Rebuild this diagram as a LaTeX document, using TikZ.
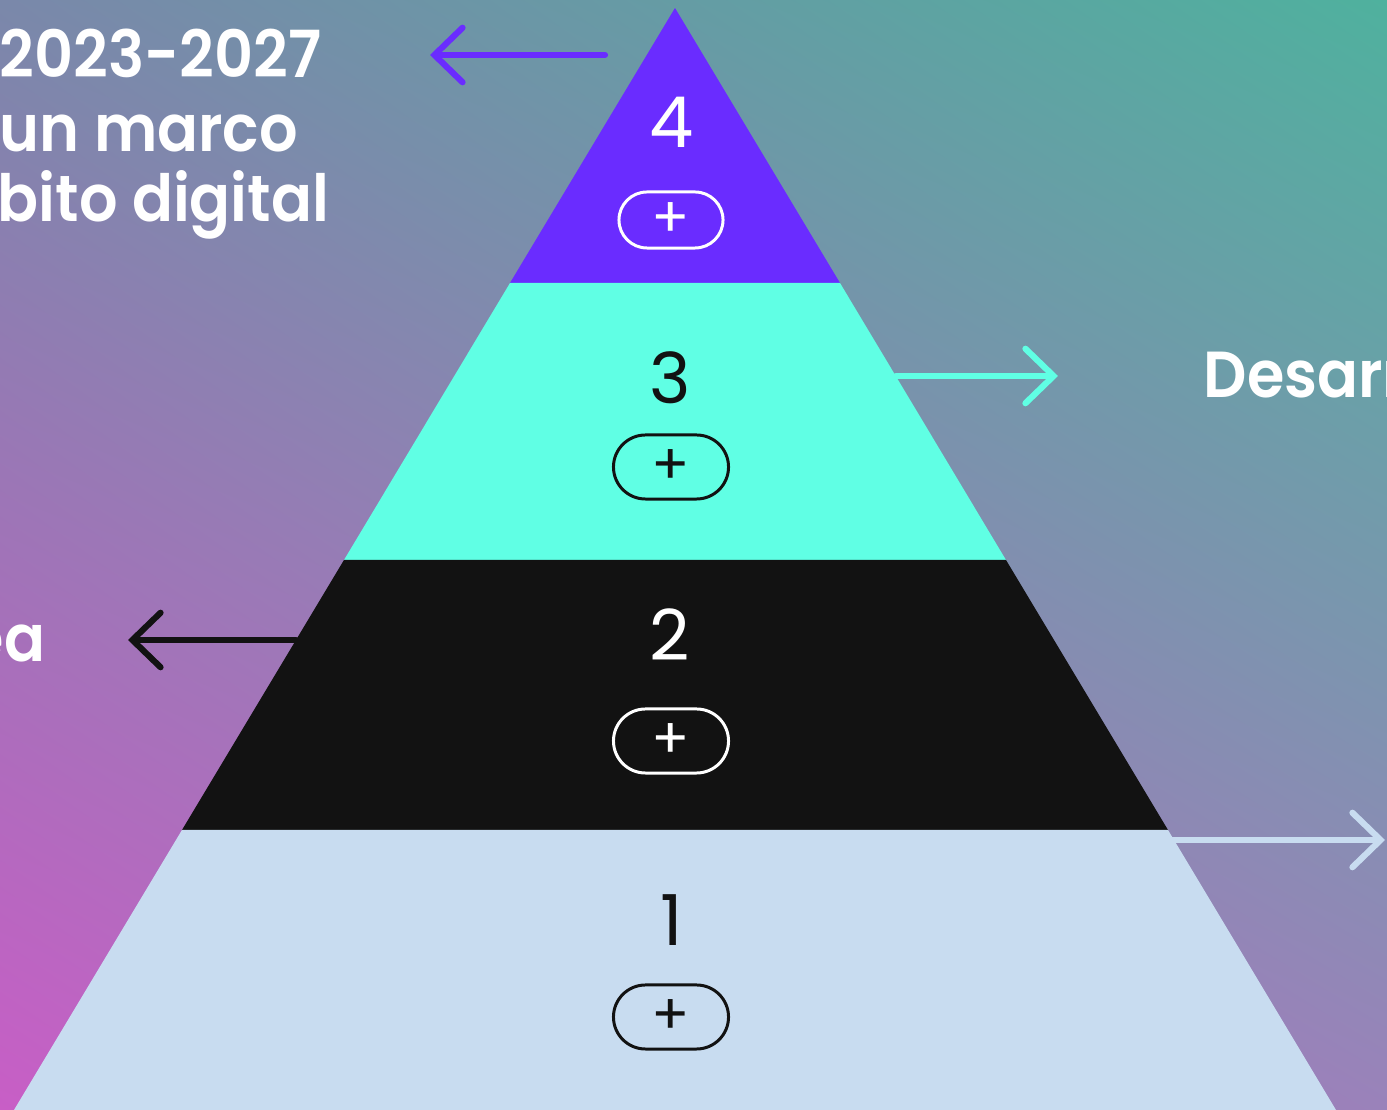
\documentclass[tikz,border=0pt]{standalone}
\usepackage{fontspec}
\setmainfont{Poppins}
\newfontfamily\thinfont{Poppins}
\IfFontExistsTF{Poppins SemiBold}{\newfontfamily\boldfont{Poppins SemiBold}[FakeStretch=0.93]}{\newfontfamily\boldfont{Poppins}[FakeStretch=0.93,FakeBold=1.5]}
\usetikzlibrary{arrows.meta,positioning,shadings}
\definecolor{lvlfour}{HTML}{6A2CFF}
\definecolor{lvlthree}{HTML}{60FFE4}
\definecolor{lvltwo}{HTML}{121212}
\definecolor{lvlone}{HTML}{C8DCF0}
\definecolor{bgtl}{HTML}{7A88AA}
\definecolor{bgtr}{HTML}{4FB19E}
\definecolor{bgbl}{HTML}{C85EC6}
\definecolor{bgbr}{HTML}{9A82BA}
\tikzstyle{arrow} = [-{Straight Barb[length=8pt,width=15.5pt,line cap=round]},line width=1.75pt,line cap=round]
\tikzstyle{pill} = [draw,line width=.85pt,rounded corners=.32cm,minimum width=1.15cm,minimum height=.64cm,inner sep=0pt,font=\thinfont\fontsize{16}{16}\selectfont]
\tikzstyle{num} = [inner sep=0pt,font=\thinfont\fontsize{20}{20}\selectfont]
\tikzstyle{lbl} = [inner sep=0pt,text=white,font=\boldfont\fontsize{18.5}{20}\selectfont]

\begin{document}
\begin{tikzpicture}[x=.01cm,y=-.01cm]
  \useasboundingbox (0,0) rectangle (1387,1110);
  \clip (0,0) rectangle (1387,1110);
  % background
  \shade[upper left=bgtl,upper right=bgtr,lower left=bgbl,lower right=bgbr] (0,0) rectangle (1387,1110);
  % pyramid, half width grows by .6 per unit down from the apex
  \coordinate (apex) at (675,8);
  \fill[lvlfour] (apex)--(840,283)--(510,283)--cycle;
  \fill[lvlthree] (510,283)--(840,283)--(1006,560)--(344,560)--cycle;
  \fill[lvltwo] (344,560)--(1006,560)--(1168,830)--(182,830)--cycle;
  \fill[lvlone] (182,830)--(1168,830)--(1336,1110)--(14,1110)--cycle;
  % levels
  \node[num,text=white] (n4) at (672,122) {4};
  \node[pill,draw=white,text=white,minimum width=1.04cm,minimum height=.56cm,rounded corners=.28cm] (p4) at (671,220) {\raisebox{-1pt}{+}};
  \node[num,text=lvltwo] (n3) at (670,378) {3};
  \node[pill,draw=lvltwo,text=lvltwo] (p3) at (671,467) {\raisebox{-1pt}{+}};
  \node[num,text=white] (n2) at (670,635) {2};
  \node[pill,draw=white,text=white] (p2) at (671,741) {\raisebox{-1pt}{+}};
  \node[num,text=lvltwo] (n1) at (672,920) {1};
  \node[pill,draw=lvltwo,text=lvltwo] (p1) at (671,1017) {\raisebox{-1pt}{+}};
  % side texts
  \node[lbl,anchor=base west] (yr) at (-1,78) {2023-2027};
  \node[lbl,anchor=base west] (mc) at (-1,152) {un marco};
  \node[lbl,anchor=base west] (dg) at (-3,222) {bito digital};
  \node[lbl,anchor=base west] (ds) at (1203,398) {Desarr};
  \node[lbl,anchor=base east] (ea) at (46,662) {ea};
  % arrows
  \coordinate (s4) at (605,55); \coordinate (t4) at (430,55);
  \coordinate (s3) at (896,376); \coordinate (t3) at (1058,376);
  \coordinate (s2) at (296,640); \coordinate (t2) at (128,640);
  \coordinate (s1) at (1172,840); \coordinate (t1) at (1385,840);
  \draw[arrow,lvlfour] (s4)--(t4);
  \draw[arrow,lvlthree] (s3)--(t3);
  \draw[arrow,lvltwo] (s2)--(t2);
  \draw[arrow,lvlone] (s1)--(t1);
\end{tikzpicture}
\end{document}
